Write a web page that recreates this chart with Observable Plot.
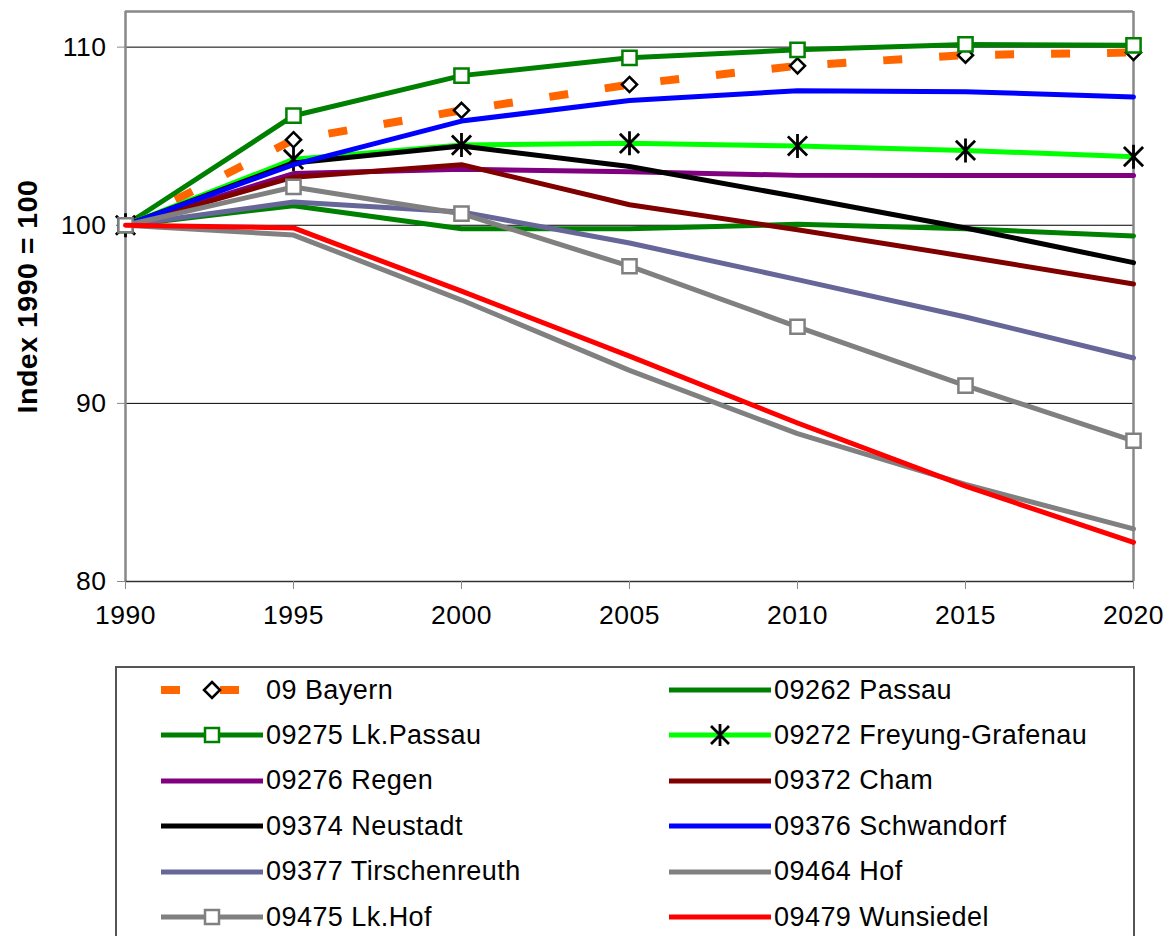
<!DOCTYPE html>
<html>
<head>
<meta charset="utf-8">
<script src="https://cdn.jsdelivr.net/npm/d3@7"></script>
<script src="https://cdn.jsdelivr.net/npm/@observablehq/plot@0.6"></script>
<style>
html, body { margin: 0; padding: 0; background: #fff; overflow: hidden; width: 1168px; height: 936px; }
body { font-family: Arial, "Liberation Sans", sans-serif; position: relative; }
#chart svg { display: block; }
#legend { position: absolute; left: 115px; top: 666px; width: 1016px; height: 300px; border: 2px solid #555; box-sizing: content-box; }
.item { position: absolute; height: 30px; display: flex; align-items: center; font-size: 27px; letter-spacing: 0.45px; color: #000; white-space: nowrap; }
.item svg { display: block; margin-right: 2px; }
</style>
</head>
<body>
<div id="chart"></div>
<div id="legend"></div>
<script>
const years = [1990, 1995, 2000, 2005, 2010, 2015, 2020];
const seriesNames = ["09 Bayern", "09262 Passau", "09275 Lk.Passau", "09272 Freyung-Grafenau", "09276 Regen", "09372 Cham", "09374 Neustadt", "09376 Schwandorf", "09377 Tirschenreuth", "09464 Hof", "09475 Lk.Hof", "09479 Wunsiedel"];
const seriesColors = ["#FF6600", "#008000", "#008000", "#00FF00", "#800080", "#800000", "#000000", "#0000FF", "#666699", "#808080", "#808080", "#FF0000"];
const seriesMarkers = ["diamond", null, "square", "asterisk", null, null, null, null, null, null, "square", null];

const bayern        = [100, 104.8, 106.45, 107.9, 108.95, 109.55, 109.7];
const passau        = [100, 101.1, 99.8, 99.8, 100.05, 99.8, 99.4];
const lkPassau      = [100, 106.15, 108.4, 109.4, 109.85, 110.15, 110.1];
const freyung       = [100, 103.7, 104.5, 104.6, 104.45, 104.2, 103.85];
const regen         = [100, 102.9, 103.15, 103.0, 102.8, 102.8, 102.8];
const cham          = [100, 102.7, 103.4, 101.15, 99.75, 98.25, 96.7];
const neustadt      = [100, 103.5, 104.45, 103.3, 101.6, 99.85, 97.9];
const schwandorf    = [100, 103.4, 105.85, 107.0, 107.55, 107.5, 107.2];
const tirschenreuth = [100, 101.3, 100.75, 99.0, 96.95, 94.85, 92.55];
const hof           = [100, 99.45, 95.8, 91.85, 88.3, 85.45, 82.95];
const lkHof         = [100, 102.15, 100.65, 97.7, 94.3, 91.0, 87.9];
const wunsiedel     = [100, 99.85, 96.3, 92.65, 88.9, 85.35, 82.2];

const yTicks = [80, 90, 100, 110];
const xTicks = [1990, 1995, 2000, 2005, 2010, 2015, 2020];

const seriesValues = [bayern, passau, lkPassau, freyung, regen, cham, neustadt, schwandorf, tirschenreuth, hof, lkHof, wunsiedel];

// Excel-like star: vertical bar plus an X
const starSymbol = {
  draw(context, size) {
    const r = Math.sqrt(size / Math.PI);
    context.moveTo(0, -r); context.lineTo(0, r);
    context.moveTo(-r * 0.8, -r * 0.8); context.lineTo(r * 0.8, r * 0.8);
    context.moveTo(-r * 0.8, r * 0.8); context.lineTo(r * 0.8, -r * 0.8);
  }
};

const markerStyle = {
  diamond: {symbol: "diamond2", r: 6.8, fill: "white", stroke: "black", strokeWidth: 2.5},
  square: (c) => ({symbol: "square", r: 8, fill: "white", stroke: c, strokeWidth: 2.5}),
  asterisk: {symbol: starSymbol, r: 12, fill: "none", stroke: "black", strokeWidth: 2.8}
};

const marks = [
  Plot.gridY([90, 100, 110], {stroke: "#000", strokeOpacity: 1, strokeWidth: 1}),
  Plot.ruleY([112], {stroke: "#888", strokeWidth: 2.5}),
  Plot.ruleX([2020], {stroke: "#888", strokeWidth: 2.5}),
  Plot.ruleX([1990], {stroke: "#888", strokeWidth: 2.5}),
  Plot.ruleY([80], {stroke: "#333", strokeWidth: 1.5}),
  Plot.axisY(yTicks, {tickSize: 8, tickPadding: 11, fontSize: 26.5, stroke: "#888", label: null, color: "#000"}),
  Plot.axisX(xTicks, {tickSize: 8, tickPadding: 16, fontSize: 26.5, stroke: "#888", tickFormat: d => String(d), label: null}),
  Plot.text(["Index 1990 = 100"], {frameAnchor: "left", dx: -98, rotate: -90, textAnchor: "middle", fontSize: 28.5, fontWeight: "bold", fill: "#000"})
];

seriesNames.forEach((name, i) => {
  const rows = years.map((year, j) => ({series: name, year, value: seriesValues[i][j]}));
  const color = seriesColors[i];
  if (i === 0) {
    marks.push(Plot.line(rows, {x: "year", y: "value", stroke: color, strokeWidth: 8, strokeDasharray: "19,37", strokeLinecap: "butt"}));
  } else {
    marks.push(Plot.line(rows, {x: "year", y: "value", stroke: color, strokeWidth: 5, strokeLinejoin: "round"}));
  }
  const m = seriesMarkers[i];
  if (m) {
    const st = typeof markerStyle[m] === "function" ? markerStyle[m](color) : markerStyle[m];
    marks.push(Plot.dot(rows, {x: "year", y: "value", ...st}));
  }
});

const chart = Plot.plot({
  width: 1168,
  height: 650,
  marginLeft: 125,
  marginRight: 35,
  marginTop: 11,
  marginBottom: 69,
  style: {fontFamily: 'Arial, "Liberation Sans", sans-serif', color: "#000", background: "white", overflow: "visible", letterSpacing: "0.5px"},
  x: {domain: [1990, 2020]},
  y: {domain: [80, 112]},
  marks
});
document.getElementById("chart").appendChild(chart);

// legend
const legend = document.getElementById("legend");
const rowH = 45.4;
seriesNames.forEach((name, i) => {
  const col = i % 2, row = Math.floor(i / 2);
  const item = document.createElement("div");
  item.className = "item";
  item.style.left = (col === 0 ? 43 : 551) + "px";
  item.style.top = (24 + row * rowH - 15 - 2) + "px";
  const color = seriesColors[i];
  const ns = "http://www.w3.org/2000/svg";
  const svg = document.createElementNS(ns, "svg");
  svg.setAttribute("width", 104); svg.setAttribute("height", 30);
  const line = document.createElementNS(ns, "line");
  line.setAttribute("x1", 1); line.setAttribute("x2", 103);
  line.setAttribute("y1", 15); line.setAttribute("y2", 15);
  line.setAttribute("stroke", color);
  if (i === 0) {
    line.setAttribute("stroke-width", 8);
    line.setAttribute("stroke-dasharray", "19,40");
  } else {
    line.setAttribute("stroke-width", 5);
  }
  svg.appendChild(line);
  const m = seriesMarkers[i];
  if (m === "square") {
    const r = document.createElementNS(ns, "rect");
    r.setAttribute("x", 45); r.setAttribute("y", 8); r.setAttribute("width", 14); r.setAttribute("height", 14);
    r.setAttribute("fill", "white"); r.setAttribute("stroke", color); r.setAttribute("stroke-width", 2.5);
    svg.appendChild(r);
  } else if (m === "diamond") {
    const p = document.createElementNS(ns, "path");
    p.setAttribute("d", "M52,7L60,15L52,23L44,15Z");
    p.setAttribute("fill", "white"); p.setAttribute("stroke", "black"); p.setAttribute("stroke-width", 2.5);
    svg.appendChild(p);
  } else if (m === "asterisk") {
    const p = document.createElementNS(ns, "path");
    p.setAttribute("d", "M52,4L52,26M43,6L61,24M43,24L61,6");
    p.setAttribute("stroke", "black"); p.setAttribute("stroke-width", 2.8); p.setAttribute("fill", "none");
    svg.appendChild(p);
  }
  item.appendChild(svg);
  const span = document.createElement("span");
  span.textContent = name;
  item.appendChild(span);
  legend.appendChild(item);
});
</script>
</body>
</html>
